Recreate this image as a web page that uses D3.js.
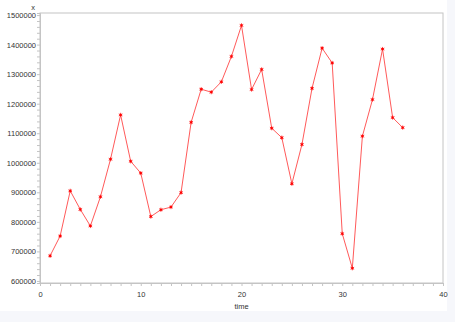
<!DOCTYPE html>
<html>
<head>
<meta charset="utf-8">
<script src="https://cdn.jsdelivr.net/npm/d3@7"></script>
<style>
  html, body { margin: 0; padding: 0; background: #f6f7fb; }
  svg { display: block; font-family: "Liberation Sans", Arial, sans-serif; }
</style>
</head>
<body>
<svg id="chart" width="455" height="322"></svg>
<script>
// Série temporal: t = 1..36
const TIMES = d3.range(1, 37);
const VALUES = [
  685000, 752000, 905000, 842000, 786000, 885000, 1012000, 1162000, 1005000, 965000,
  818000, 841000, 850000, 899000, 1137000, 1249000, 1239000, 1274000, 1360000, 1465000,
  1248000, 1316000, 1117000, 1085000, 929000, 1062000, 1252000, 1388000, 1338000, 760000,
  643000, 1090000, 1214000, 1385000, 1153000, 1119000,
];
const X_TICKS = [0, 10, 20, 30, 40];
const Y_TICKS = [600000, 700000, 800000, 900000, 1000000, 1100000, 1200000, 1300000, 1400000, 1500000];

const data = TIMES.map((t, i) => ({ t, v: VALUES[i] }));

const svg = d3.select("#chart");

// fundo branco do painel (a borda azulada vem do body)
svg.append("rect").attr("x", 0).attr("y", 0).attr("width", 447).attr("height", 311).attr("fill", "#fff");

const margin = { top: 13, right: 12, bottom: 39, left: 40 };
const W = 443 - margin.left;
const H = 283 - margin.top;
const g = svg.append("g").attr("transform", `translate(${margin.left},${margin.top})`);

const x = d3.scaleLinear().domain([0, 40]).range([0, W]);
const y = d3.scaleLinear().domain([593000, 1507000]).range([H, 0]);

const axisCol = "#c4c4c4";

// caixa do gráfico
g.append("rect").attr("width", W).attr("height", H)
  .attr("fill", "none").attr("stroke", axisCol).attr("stroke-width", 1);

// eixo x: principais + secundários a cada unidade
const xAxis = g.append("g").attr("transform", `translate(0,${H})`)
  .call(d3.axisBottom(x).tickValues(d3.range(0, 41, 1)).tickSize(3)
    .tickFormat((d) => (X_TICKS.includes(d) ? d : "")));
xAxis.select(".domain").attr("stroke", axisCol);
xAxis.selectAll("line").attr("stroke", axisCol);
xAxis.selectAll("text").attr("fill", "#333").style("font-size", "7.5px").attr("dy", "1.1em");

// eixo y
const yAxis = g.append("g")
  .call(d3.axisLeft(y).tickValues(d3.range(600000, 1500001, 20000)).tickSize(3)
    .tickFormat((d) => (Y_TICKS.includes(d) ? d : "")));
yAxis.select(".domain").attr("stroke", axisCol);
yAxis.selectAll("line").attr("stroke", axisCol);
yAxis.selectAll("text").attr("fill", "#333").style("font-size", "7.5px").attr("x", -4);

// rótulos dos eixos
svg.append("text").attr("x", 33).attr("y", 10).attr("text-anchor", "middle")
  .style("font-size", "7.5px").attr("fill", "#333").text("x");
svg.append("text").attr("x", margin.left + x(20)).attr("y", 309).attr("text-anchor", "middle")
  .style("font-size", "7.5px").attr("fill", "#333").text("time");

// linha
const line = d3.line().x((d) => x(d.t)).y((d) => y(d.v));
g.append("path").datum(data)
  .attr("fill", "none").attr("stroke", "#ff5a5a").attr("stroke-width", 1)
  .attr("d", line);

// marcadores (asterisco pequeno)
g.selectAll(null).data(data).enter().append("path")
  .attr("transform", (d) => `translate(${x(d.t)},${y(d.v)})`)
  .attr("d", d3.symbol(d3.symbolAsterisk, 12))
  .attr("stroke", "#ff3030").attr("stroke-width", 0.9).attr("fill", "none");
g.selectAll(null).data(data).enter().append("rect")
  .attr("x", (d) => x(d.t) - 1).attr("y", (d) => y(d.v) - 1)
  .attr("width", 2).attr("height", 2).attr("fill", "#ff0000");
</script>
</body>
</html>
